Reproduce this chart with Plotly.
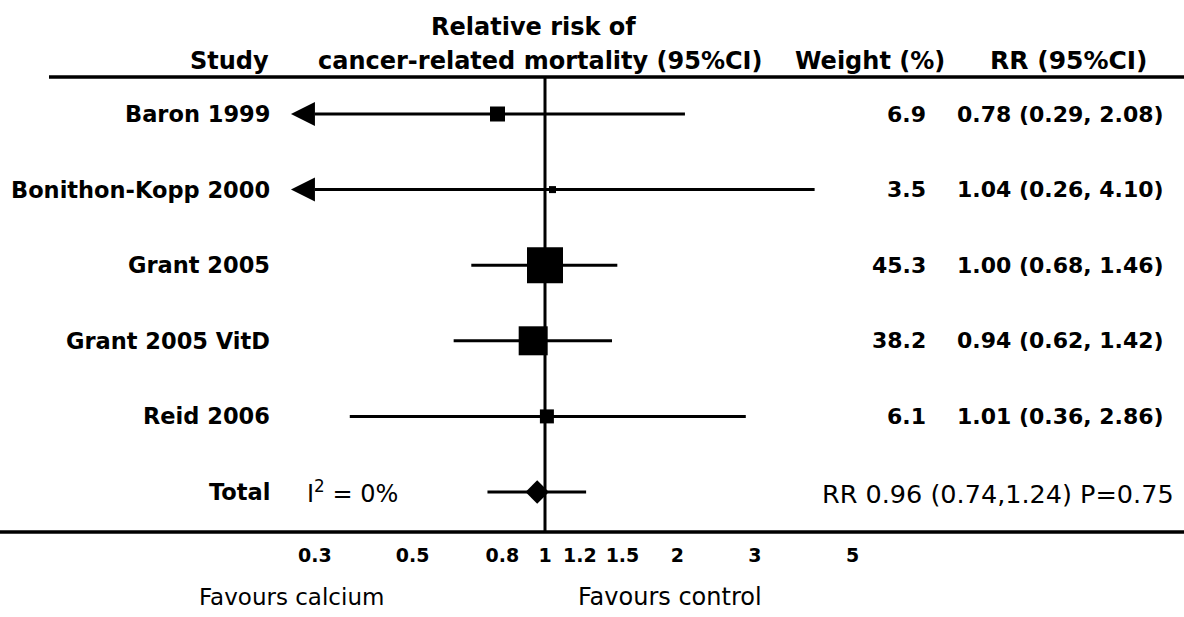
import plotly.graph_objects as go

# ---- data -------------------------------------------------------------
studies = ["Baron 1999", "Bonithon-Kopp 2000", "Grant 2005", "Grant 2005 VitD", "Reid 2006"]
rr = [0.78, 1.04, 1.00, 0.94, 1.01]
ci_low = [0.29, 0.26, 0.68, 0.62, 0.36]
ci_high = [2.08, 4.10, 1.46, 1.42, 2.86]
weights = [6.9, 3.5, 45.3, 38.2, 6.1]

total_rr = 0.96
total_low = 0.74
total_high = 1.24
total_p = 0.75
i_squared = 0

tick_values = [0.3, 0.5, 0.8, 1, 1.2, 1.5, 2, 3, 5]
tick_labels = ["0.3", "0.5", "0.8", "1", "1.2", "1.5", "2", "3", "5"]

# ---- styling / layout constants --------------------------------------
W, H = 1184, 617
PLOT_TOP, PLOT_BOTTOM = 77, 532          # pixel rows of the two rules
AXIS_MIN = 0.3                           # intervals below this get an arrow
PX_PER_DECADE = 440
X_ONE_PX = 545                           # pixel column of RR = 1
box_sizes = [15, 7, 36, 29, 14]          # marker size per study
ARROW_PX = 24                            # arrowhead length in pixels
FONT = "DejaVu Sans"
BLACK = "#000000"

x_range = [(0 - X_ONE_PX) / PX_PER_DECADE, (W - X_ONE_PX) / PX_PER_DECADE]
row_px = 75.6
first_row_px = 114
y_top = -(first_row_px - PLOT_TOP) / row_px
y_bottom = y_top + (PLOT_BOTTOM - PLOT_TOP) / row_px
n = len(studies)
total_row = n


def py(p):
    """pixel row -> paper y"""
    return (PLOT_BOTTOM - p) / (PLOT_BOTTOM - PLOT_TOP)


def px(p):
    return p / W


fig = go.Figure()

# line of no effect
fig.add_trace(go.Scatter(
    x=[1, 1], y=[y_bottom, y_top], mode="lines",
    line=dict(color=BLACK, width=3), hoverinfo="skip", showlegend=False,
))

# confidence intervals
cx, cy = [], []
for i in range(n):
    cx += [max(ci_low[i], AXIS_MIN), ci_high[i], None]
    cy += [i, i, None]
cx += [total_low, total_high, None]
cy += [total_row, total_row, None]
fig.add_trace(go.Scatter(
    x=cx, y=cy, mode="lines", line=dict(color=BLACK, width=3),
    hoverinfo="skip", showlegend=False,
))

# arrowheads where an interval runs past the axis minimum
tip_factor = 10 ** (-ARROW_PX / PX_PER_DECADE)
clipped = [i for i in range(n) if ci_low[i] < AXIS_MIN]
fig.add_trace(go.Scatter(
    x=[AXIS_MIN * tip_factor] * len(clipped), y=clipped, mode="markers",
    marker=dict(symbol="arrow-left", size=ARROW_PX, color=BLACK, opacity=1,
                line=dict(width=0)),
    cliponaxis=False, hoverinfo="skip", showlegend=False,
))

# study point estimates
fig.add_trace(go.Scatter(
    x=rr, y=list(range(n)), mode="markers",
    marker=dict(symbol="square", size=box_sizes, color=BLACK, opacity=1,
                line=dict(width=0)),
    showlegend=False,
))

# pooled estimate
fig.add_trace(go.Scatter(
    x=[total_rr], y=[total_row], mode="markers",
    marker=dict(symbol="diamond", size=18, color=BLACK, opacity=1,
                line=dict(width=0)),
    showlegend=False,
))

annotations = []


def text(x, y, s, anchor, size, bold=True):
    annotations.append(dict(
        x=px(x), y=py(y), xref="paper", yref="paper", text=s,
        xanchor=anchor, yanchor="middle", showarrow=False,
        font=dict(family=FONT, size=size, color=BLACK,
                  weight="bold" if bold else "normal"),
    ))


# column headers
text(533, 27, "Relative risk of", "center", 24)
text(271, 61, "Study", "right", 24)
text(540, 61, "cancer-related mortality (95%CI)", "center", 24)
text(870, 61, "Weight (%)", "center", 24)
text(1069, 61, "RR (95%CI)", "center", 25)

# rows
for i, name in enumerate(studies):
    yp = first_row_px + i * row_px
    text(272, yp, name, "right", 22.5)
    text(928, yp, f"{weights[i]:.1f}", "right", 22)
    text(955, yp, f"{rr[i]:.2f} ({ci_low[i]:.2f}, {ci_high[i]:.2f})", "left", 22)

total_px = first_row_px + total_row * row_px
text(272, total_px, "Total", "right", 22.5)
text(305, total_px, f"I<sup>2</sup> = {i_squared}%", "left", 24, bold=False)
text(1176, total_px + 2,
     f"RR {total_rr:.2f} ({total_low:.2f},{total_high:.2f}) P={total_p:.2f}",
     "right", 25.5, bold=False)

# direction labels
text(291, 597, "Favours calcium", "center", 23, bold=False)
text(670, 597, "Favours control", "center", 24, bold=False)

shapes = [
    dict(type="line", xref="paper", yref="paper", x0=px(49), x1=1, y0=1, y1=1,
         line=dict(color=BLACK, width=3.5)),
    dict(type="line", xref="paper", yref="paper", x0=0, x1=1, y0=0, y1=0,
         line=dict(color=BLACK, width=3.5)),
]

fig.update_layout(
    width=W, height=H,
    margin=dict(l=0, r=0, t=PLOT_TOP, b=H - PLOT_BOTTOM, pad=0),
    paper_bgcolor="white", plot_bgcolor="white",
    showlegend=False,
    annotations=annotations, shapes=shapes,
    xaxis=dict(
        type="log", range=x_range, tickmode="array",
        tickvals=tick_values, ticktext=tick_labels,
        showgrid=False, zeroline=False, showline=False, ticks="",
        ticklabelstandoff=10,
        tickfont=dict(family=FONT, size=19, color=BLACK, weight="bold"),
        fixedrange=True,
    ),
    yaxis=dict(
        range=[y_bottom, y_top], visible=False, fixedrange=True,
    ),
)

fig.write_html("out.html")
